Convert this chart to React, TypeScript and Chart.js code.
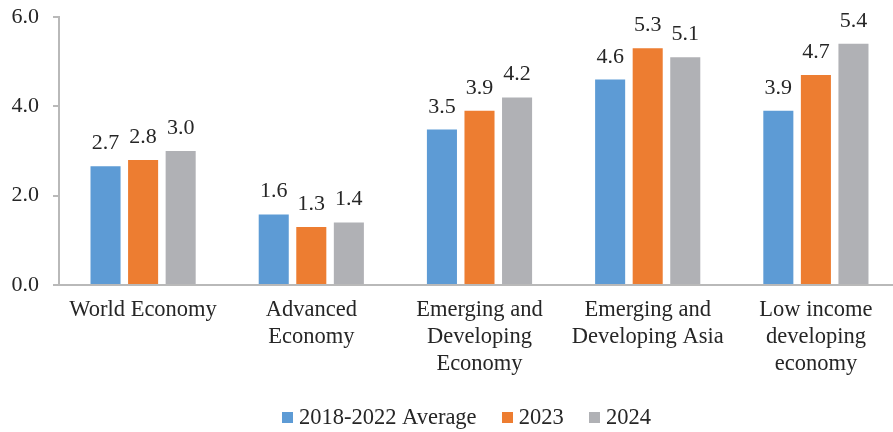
import React, { useEffect, useRef } from 'react';
import { Chart, registerables } from 'chart.js';

Chart.register(...registerables);

// ---- data ----
const categories: (string | string[])[] = [
  'World Economy',
  ['Advanced', 'Economy'],
  ['Emerging and', 'Developing', 'Economy'],
  ['Emerging and', 'Developing Asia'],
  ['Low income', 'developing', 'economy'],
];
const seriesNames = ['2018-2022 Average', '2023', '2024'];
const avg2018to2022 = [2.66, 1.58, 3.48, 4.6, 3.9];
const values2023 = [2.8, 1.3, 3.9, 5.3, 4.7];
const values2024 = [3.0, 1.4, 4.2, 5.1, 5.4];
const yTicks = [0, 2, 4, 6];

// ---- styles ----
const seriesColors = ['#5D9BD5', '#ED7D31', '#B0B1B5'];
const TEXT = '#262626';
const AXIS = '#b9b9b9';
const FONT = '"Liberation Serif", "Times New Roman", serif';
const LEGEND_SHIFT = 14.9;

const valueLabels = {
  id: 'valueLabels',
  afterDatasetsDraw(chart: any) {
    const ctx = chart.ctx;
    ctx.save();
    ctx.font = `22px ${FONT}`;
    ctx.fillStyle = TEXT;
    ctx.textAlign = 'center';
    ctx.textBaseline = 'alphabetic';
    chart.data.datasets.forEach((ds: any, i: number) => {
      const meta = chart.getDatasetMeta(i);
      meta.data.forEach((bar: any, j: number) => {
        const v = ds.data[j] as number;
        ctx.fillText(v.toFixed(1), bar.x, bar.y - 17);
      });
    });
    ctx.restore();
  },
};

const legendShift = {
  id: 'legendShift',
  afterLayout(chart: any) {
    const l = chart.legend;
    if (l) {
      l.left += LEGEND_SHIFT;
      l.right += LEGEND_SHIFT;
    }
  },
};

export default function App() {
  const canvasRef = useRef<HTMLCanvasElement | null>(null);

  useEffect(() => {
    if (!canvasRef.current) return;
    const boxImages = seriesColors.map((c) => {
      const cv = document.createElement('canvas');
      cv.width = 11;
      cv.height = 11;
      const cx = cv.getContext('2d')!;
      cx.fillStyle = c;
      cx.fillRect(0, 0, 11, 11);
      return cv;
    });
    const seriesData = [avg2018to2022, values2023, values2024];
    const chart = new Chart(canvasRef.current, {
      type: 'bar',
      data: {
        labels: categories,
        datasets: seriesNames.map((name, i) => ({
          label: name,
          data: seriesData[i],
          backgroundColor: seriesColors[i],
          borderWidth: 0,
          categoryPercentage: 0.67,
          barPercentage: 0.8,
        })),
      },
      options: {
        animation: false,
        responsive: true,
        maintainAspectRatio: false,
        layout: { padding: { left: 8, right: 1, top: 17, bottom: 1 } },
        plugins: {
          tooltip: { enabled: false },
          legend: {
            display: true,
            position: 'bottom',
            labels: {
              usePointStyle: true,
              pointStyleWidth: 1,
              boxHeight: 11,
              padding: 30,
              color: TEXT,
              font: { family: FONT, size: 22.5 },
              generateLabels: (ch: any) =>
                (Chart.defaults.plugins.legend.labels.generateLabels as any)(ch).map((it: any) => ({
                  ...it,
                  pointStyle: boxImages[it.datasetIndex],
                })),
            },
          },
        },
        scales: {
          x: {
            grid: { display: true, drawOnChartArea: false, drawTicks: false },
            border: { display: true, color: AXIS, width: 2 },
            ticks: {
              color: TEXT,
              font: { family: FONT, size: 22.5, lineHeight: 1.19 },
              padding: 12,
              maxRotation: 0,
              autoSkip: false,
            },
            afterFit: (s: any) => {
              s.height = 91.5;
              s.paddingLeft = 0;
              s.paddingRight = 0;
            },
          },
          y: {
            min: 0,
            max: 6,
            grid: {
              display: true,
              drawOnChartArea: false,
              drawTicks: true,
              tickLength: 6,
              color: AXIS,
              lineWidth: 2,
            },
            border: { display: true, color: AXIS, width: 2 },
            ticks: {
              color: TEXT,
              font: { family: FONT, size: 22 },
              padding: 14,
              callback: (v: any) => Number(v).toFixed(1),
            },
            afterBuildTicks: (s: any) => {
              s.ticks = yTicks.map((v) => ({ value: v }));
            },
            afterFit: (s: any) => {
              s.width = 51;
              s.paddingTop = 0;
              s.paddingBottom = 0;
            },
          },
        },
      },
      plugins: [valueLabels, legendShift],
    } as any);
    return () => chart.destroy();
  }, []);

  return (
    <div
      style={{
        position: 'fixed',
        left: 0,
        top: 0,
        width: 893,
        height: 432,
        overflow: 'hidden',
        background: '#fff',
      }}
    >
      <div style={{ position: 'relative', width: 901, height: 440 }}>
        <canvas ref={canvasRef} />
      </div>
    </div>
  );
}
